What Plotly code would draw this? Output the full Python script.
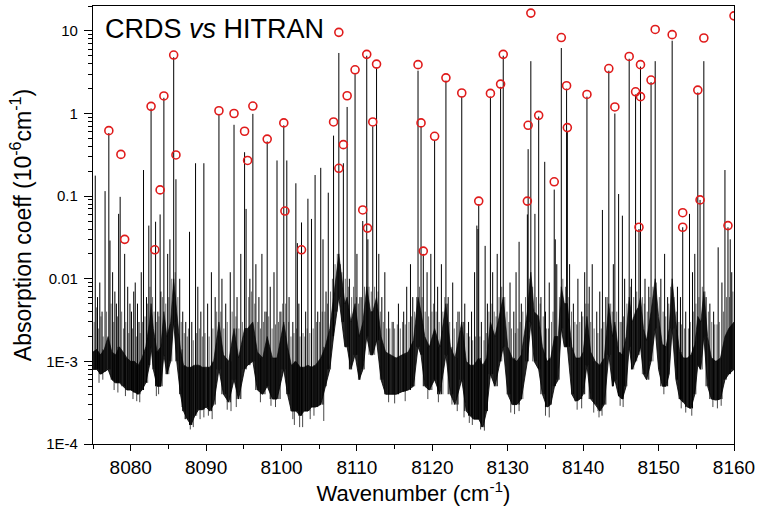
import plotly.graph_objects as go

# ---- HITRAN line intensities (red circles) ----
hitran_wn = [8077.1, 8078.7, 8079.2, 8082.7, 8083.2, 8083.9, 8084.4, 8085.7, 8086.0,
             8091.7, 8093.7, 8095.1, 8095.5, 8096.2, 8098.1, 8100.3, 8100.45, 8102.65,
             8106.9, 8107.6, 8107.6, 8108.2, 8108.7, 8109.75, 8110.77, 8111.3, 8111.4,
             8112.1, 8112.6, 8118.1, 8118.5, 8118.8, 8120.3, 8121.8, 8123.9, 8126.15,
             8127.7, 8129.05, 8129.4, 8132.6, 8132.7, 8133.06, 8134.1, 8136.16, 8137.1,
             8137.8, 8137.9, 8140.5, 8143.4, 8144.2, 8146.1, 8146.95, 8147.4, 8147.6,
             8147.6, 8149.0, 8149.55, 8151.8, 8153.2, 8153.2, 8155.2, 8155.5, 8156.0,
             8159.2, 8160.0]
hitran_int = [0.62, 0.32, 0.030, 1.22, 0.0224, 0.119, 1.63, 5.1, 0.315,
              1.08, 1.0, 0.61, 0.27, 1.23, 0.49, 0.77, 0.066, 0.0224,
              0.79, 9.6, 0.217, 0.42, 1.64, 3.38, 0.068, 5.2, 0.041,
              0.79, 3.96, 3.9, 0.77, 0.0216, 0.53, 2.7, 1.77, 0.087,
              1.75, 2.27, 5.2, 0.087, 0.72, 16.4, 0.95, 0.149, 8.3,
              2.17, 0.675, 1.70, 3.5, 1.20, 4.9, 1.83, 0.042, 3.9,
              1.6, 2.54, 10.4, 9.0, 0.063, 0.042, 1.92, 0.090, 8.2,
              0.044, 15.2]

# ---- CRDS spectrum: main lines (peak values) ----
strong_wn = [8075.3, 8076.6, 8077.1, 8077.25, 8078.4, 8078.6, 8079.2, 8081.7, 8082.4,
             8082.7, 8083.3, 8083.9, 8084.4, 8085.7, 8086.0, 8087.8, 8088.6, 8089.7,
             8091.7, 8093.7, 8095.1, 8095.3, 8096.2, 8098.1, 8099.4, 8100.3, 8100.7,
             8101.9, 8102.1, 8102.65, 8103.5, 8103.97, 8104.45, 8105.2, 8106.2, 8106.9,
             8107.6, 8108.2, 8108.7, 8109.75, 8110.77, 8111.3, 8111.45, 8112.1, 8112.6,
             8118.1, 8118.5, 8118.8, 8120.3, 8121.8, 8123.9, 8125.9, 8126.05, 8126.15,
             8127.0, 8127.7, 8129.05, 8129.4, 8131.5, 8132.6, 8132.7, 8133.06, 8133.6,
             8134.1, 8134.9, 8136.16, 8136.3, 8137.1, 8137.8, 8137.9, 8140.5, 8142.55,
             8143.4, 8144.2, 8144.7, 8145.2, 8146.1, 8146.95, 8147.4, 8147.6, 8149.0,
             8149.55, 8151.8, 8153.2, 8154.1, 8155.2, 8155.5, 8156.0, 8157.9, 8158.8,
             8159.2, 8159.5]
strong_pk = [0.177, 0.115, 0.58, 0.029, 0.061, 0.098, 0.02, 0.207, 0.044,
             1.15, 0.049, 0.06, 1.55, 4.8, 0.16, 0.037, 0.25, 0.25,
             0.97, 0.73, 0.34, 0.07, 0.99, 0.46, 0.27, 0.72, 0.27,
             0.143, 0.027, 0.048, 0.093, 0.053, 0.18, 0.22, 0.11, 0.54,
             5.4, 0.25, 1.2, 3.0, 0.05, 5.0, 0.03, 0.7, 3.6,
             3.3, 0.7, 0.02, 0.47, 2.5, 1.6, 0.044, 0.04, 0.08,
             0.025, 1.6, 2.1, 5.0, 0.028, 0.06, 0.37, 4.3, 0.061,
             0.92, 0.26, 0.12, 0.03, 6.2, 2.0, 0.6, 1.6, 0.068,
             3.3, 1.0, 0.106, 0.058, 4.6, 1.7, 0.04, 3.7, 2.4,
             4.3, 7.6, 0.042, 0.061, 1.8, 0.09, 4.3, 0.024, 0.207,
             0.042, 0.03]

# ---- CRDS spectrum: weak lines ----
weak_wn = [8075.6, 8075.9, 8076.2, 8077.6, 8077.9, 8078.1, 8079.6, 8079.9, 8080.1,
           8080.4, 8080.6, 8080.9, 8081.1, 8081.4, 8082.1, 8083.6, 8084.0, 8084.9,
           8085.2, 8086.5, 8086.9, 8087.3, 8088.1, 8088.9, 8089.3, 8090.2, 8090.7,
           8091.2, 8092.1, 8092.6, 8093.2, 8094.1, 8094.6, 8095.8, 8096.6, 8097.0,
           8097.4, 8097.8, 8098.5, 8099.0, 8099.8, 8101.0, 8101.5, 8102.3, 8103.2,
           8104.8, 8105.5, 8105.9, 8109.0, 8110.0, 8110.4, 8112.9, 8113.3, 8113.7,
           8114.2, 8114.8, 8115.5, 8116.2, 8116.6, 8117.1, 8117.4, 8119.3, 8119.8,
           8120.7, 8121.2, 8122.1, 8122.7, 8123.4, 8124.3, 8124.8, 8125.2, 8125.6,
           8126.5, 8127.3, 8128.0, 8128.6, 8130.3, 8130.8, 8131.1, 8131.8, 8134.4,
           8135.0, 8135.5, 8136.5, 8138.2, 8138.7, 8139.3, 8139.8, 8140.2, 8140.8,
           8141.2, 8141.8, 8142.2, 8143.0, 8144.0, 8145.5, 8146.4, 8148.2, 8148.7,
           8150.3, 8150.8, 8151.2, 8152.5, 8152.9, 8153.6, 8154.5, 8154.8, 8156.3,
           8156.8, 8157.3, 8158.4, 8159.7]
weak_pk = [0.006, 0.009, 0.004, 0.012, 0.007, 0.005, 0.008, 0.005, 0.004,
           0.007, 0.009, 0.005, 0.003, 0.012, 0.006, 0.004, 0.007, 0.02,
           0.03, 0.01, 0.004, 0.003, 0.003, 0.008, 0.004, 0.005, 0.012,
           0.006, 0.01, 0.005, 0.012, 0.006, 0.02, 0.01, 0.015, 0.006,
           0.02, 0.004, 0.008, 0.012, 0.004, 0.006, 0.003, 0.005, 0.004,
           0.004, 0.03, 0.007, 0.01, 0.02, 0.006, 0.02, 0.006, 0.012,
           0.004, 0.003, 0.005, 0.004, 0.008, 0.015, 0.006, 0.012, 0.02,
           0.008, 0.015, 0.006, 0.009, 0.004, 0.005, 0.003, 0.004, 0.012,
           0.003, 0.005, 0.012, 0.02, 0.009, 0.004, 0.012, 0.005, 0.006,
           0.004, 0.009, 0.015, 0.015, 0.005, 0.01, 0.004, 0.012, 0.008,
           0.015, 0.004, 0.007, 0.006, 0.015, 0.01, 0.01, 0.01, 0.008,
           0.01, 0.02, 0.006, 0.008, 0.006, 0.004, 0.012, 0.02, 0.006,
           0.005, 0.004, 0.009, 0.012]

# ---- CRDS spectrum: dense forest of very weak lines just above the noise ----
forest_wn = [8075.15, 8075.45, 8075.75, 8076.05, 8076.35, 8076.8, 8077.4, 8077.75, 8078.25,
             8078.8, 8079.05, 8079.35, 8079.75, 8080.25, 8080.75, 8081.25, 8081.55, 8081.9,
             8082.25, 8082.55, 8082.9, 8083.1, 8083.45, 8083.75, 8084.2, 8084.65, 8085.05,
             8085.45, 8085.9, 8086.25, 8086.7, 8087.1, 8087.5, 8087.65, 8088.3, 8088.75,
             8089.1, 8089.5, 8089.85, 8090.4, 8090.9, 8091.4, 8091.95, 8092.35, 8092.8,
             8093.45, 8093.95, 8094.35, 8094.8, 8095.65, 8096.0, 8096.45, 8096.85, 8097.2,
             8097.6, 8098.0, 8098.3, 8098.75, 8099.2, 8099.6, 8099.95, 8100.15, 8100.55,
             8100.95, 8101.25, 8101.65, 8102.0, 8102.45, 8102.85, 8103.1, 8103.4, 8103.75,
             8104.2, 8104.65, 8105.05, 8105.4, 8105.75, 8106.1, 8106.5, 8106.75, 8107.1,
             8107.4, 8107.8, 8108.0, 8108.45, 8108.9, 8109.3, 8109.55, 8109.95, 8110.2,
             8110.6, 8111.0, 8111.6, 8111.9, 8112.35, 8112.8, 8113.1, 8113.5, 8113.95,
             8114.35, 8114.65, 8115.0, 8115.35, 8115.75, 8116.05, 8116.4, 8116.9, 8117.25,
             8117.65, 8117.9, 8118.3, 8118.65, 8119.05, 8119.5, 8119.95, 8120.15, 8120.5,
             8120.9, 8121.4, 8121.65, 8122.0, 8122.3, 8122.9, 8123.2, 8123.6, 8124.1,
             8124.6, 8124.95, 8125.35, 8125.75, 8126.3, 8126.85, 8127.15, 8127.5, 8127.9,
             8128.2, 8128.45, 8128.85, 8129.2, 8129.6, 8129.9, 8130.15, 8130.5, 8131.0,
             8131.35, 8131.65, 8132.0, 8132.35, 8132.85, 8133.3, 8133.8, 8134.3, 8134.7,
             8135.15, 8135.4, 8135.8, 8136.0, 8136.85, 8137.3, 8137.65, 8138.1, 8138.45,
             8138.9, 8139.15, 8139.55, 8139.95, 8140.35, 8140.65, 8141.0, 8141.45, 8141.95,
             8142.4, 8142.75, 8143.2, 8143.65, 8143.85, 8144.45, 8144.9, 8145.05, 8145.35,
             8145.8, 8146.25, 8146.7, 8147.1, 8147.85, 8148.1, 8148.5, 8148.85, 8149.25,
             8149.7, 8150.1, 8150.6, 8150.95, 8151.35, 8151.6, 8152.05, 8152.35, 8152.7,
             8153.05, 8153.45, 8153.95, 8154.2, 8154.6, 8154.95, 8155.35, 8155.8, 8156.15,
             8156.6, 8157.05, 8157.45, 8157.75, 8158.05, 8158.6, 8159.0, 8159.4, 8159.85]
forest_pk = [0.003, 0.0045, 0.0025, 0.0035, 0.002, 0.004, 0.005, 0.003, 0.0035,
             0.004, 0.0025, 0.003, 0.0022, 0.0025, 0.002, 0.0022, 0.003, 0.0035,
             0.005, 0.008, 0.006, 0.004, 0.003, 0.0035, 0.006, 0.005, 0.006,
             0.01, 0.012, 0.006, 0.003, 0.0022, 0.002, 0.0025, 0.0018, 0.0022,
             0.0025, 0.002, 0.0022, 0.002, 0.0025, 0.004, 0.004, 0.0025, 0.003,
             0.004, 0.0035, 0.0025, 0.003, 0.006, 0.007, 0.005, 0.003, 0.0025,
             0.003, 0.004, 0.0035, 0.0025, 0.0028, 0.003, 0.004, 0.005, 0.005,
             0.003, 0.002, 0.0022, 0.0025, 0.002, 0.0022, 0.002, 0.0025, 0.0022,
             0.0025, 0.003, 0.003, 0.004, 0.004, 0.005, 0.007, 0.01, 0.015,
             0.02, 0.015, 0.012, 0.01, 0.008, 0.006, 0.008, 0.006, 0.005,
             0.006, 0.008, 0.008, 0.007, 0.008, 0.007, 0.004, 0.003, 0.0025,
             0.0025, 0.003, 0.0025, 0.0028, 0.0025, 0.003, 0.0028, 0.003, 0.0035,
             0.004, 0.006, 0.008, 0.006, 0.004, 0.0035, 0.004, 0.005, 0.004,
             0.003, 0.004, 0.006, 0.005, 0.003, 0.0025, 0.003, 0.004, 0.003,
             0.0022, 0.002, 0.0018, 0.002, 0.002, 0.0018, 0.0022, 0.004, 0.005,
             0.004, 0.0035, 0.006, 0.008, 0.006, 0.004, 0.003, 0.0025, 0.0022,
             0.0025, 0.003, 0.004, 0.006, 0.01, 0.008, 0.006, 0.005, 0.0035,
             0.0025, 0.0025, 0.003, 0.004, 0.006, 0.01, 0.008, 0.006, 0.004,
             0.003, 0.0028, 0.003, 0.0035, 0.005, 0.005, 0.003, 0.0025, 0.0022,
             0.0025, 0.003, 0.006, 0.005, 0.004, 0.004, 0.003, 0.003, 0.0035,
             0.005, 0.008, 0.006, 0.007, 0.006, 0.005, 0.004, 0.006, 0.008,
             0.009, 0.006, 0.004, 0.0035, 0.005, 0.008, 0.006, 0.004, 0.003,
             0.0028, 0.0025, 0.0025, 0.003, 0.004, 0.005, 0.006, 0.008, 0.007,
             0.004, 0.003, 0.0028, 0.0028, 0.003, 0.004, 0.006, 0.006, 0.007]

# ---- CRDS spectrum: deepest downward noise spikes ----
dip_wn = [8075.8, 8076.3, 8077.8, 8078.3, 8079.3, 8080.3, 8080.8, 8081.2, 8083.4, 8083.7,
          8086.8, 8087.2, 8087.9, 8088.3, 8089.2, 8089.7, 8090.3, 8090.8, 8092.8, 8093.3,
          8094.0, 8097.2, 8098.6, 8099.2, 8101.5, 8101.7, 8102.4, 8102.8, 8103.8, 8104.3,
          8105.6, 8114.2, 8115.0, 8116.4, 8119.4, 8120.8, 8122.6, 8123.3, 8124.2, 8124.9,
          8125.3, 8126.4, 8126.9, 8130.4, 8130.9, 8131.5, 8135.0, 8135.5, 8139.2, 8139.8,
          8141.4, 8142.1, 8142.5, 8144.9, 8145.3, 8150.7, 8153.0, 8153.6, 8154.4, 8157.2,
          8157.8, 8158.3]
dip_val = [5.5e-4, 6e-4, 4.5e-4, 4.2e-4, 3.8e-4, 3.5e-4, 3.3e-4, 3.2e-4, 3.8e-4, 4e-4,
           2.8e-4, 2e-4, 1.5e-4, 1.6e-4, 2e-4, 2.1e-4, 2.2e-4, 2e-4, 2.6e-4, 2.5e-4,
           2.8e-4, 3.2e-4, 2.9e-4, 2.8e-4, 2e-4, 1.7e-4, 1.6e-4, 1.6e-4, 2e-4, 2.2e-4,
           1.9e-4, 3.2e-4, 3.1e-4, 3.3e-4, 3.5e-4, 3.2e-4, 3e-4, 2.5e-4, 2.1e-4, 1.8e-4,
           1.7e-4, 1.5e-4, 1.45e-4, 2.4e-4, 2.3e-4, 2.5e-4, 2.2e-4, 2.1e-4, 2.6e-4, 2.7e-4,
           2.4e-4, 2.1e-4, 2.2e-4, 2.9e-4, 2.8e-4, 4e-4, 2.7e-4, 2.4e-4, 2.2e-4, 2.8e-4,
           2.7e-4, 2.9e-4]

# ---- CRDS spectrum: dense noise band (upper / lower edge) ----
env_wn = [8075.0, 8075.5, 8076.0, 8076.5, 8077.0, 8077.5, 8078.0, 8078.5, 8079.0, 8079.5,
          8080.0, 8080.5, 8081.0, 8081.5, 8082.0, 8082.5, 8082.7, 8083.0, 8083.5, 8084.0,
          8084.4, 8084.8, 8085.3, 8085.7, 8086.1, 8086.6, 8087.0, 8087.5, 8088.0, 8088.5,
          8089.0, 8089.5, 8090.0, 8090.5, 8091.0, 8091.7, 8092.3, 8093.0, 8093.7, 8094.3,
          8095.1, 8095.5, 8096.2, 8096.8, 8097.5, 8098.1, 8098.8, 8099.4, 8100.3, 8100.8,
          8101.3, 8101.9, 8102.5, 8103.0, 8103.5, 8104.0, 8104.5, 8105.2, 8105.8, 8106.4,
          8106.9, 8107.3, 8107.6, 8108.0, 8108.4, 8108.7, 8109.2, 8109.75, 8110.3, 8110.8,
          8111.3, 8111.8, 8112.1, 8112.6, 8113.2, 8113.8, 8114.5, 8115.2, 8116.0, 8116.8,
          8117.5, 8118.1, 8118.5, 8119.0, 8119.6, 8120.3, 8121.0, 8121.8, 8122.4, 8123.0,
          8123.9, 8124.5, 8125.0, 8125.5, 8126.15, 8126.7, 8127.2, 8127.7, 8128.3, 8129.05,
          8129.4, 8130.0, 8130.6, 8131.2, 8131.8, 8132.6, 8133.06, 8133.5, 8134.1, 8134.6,
          8135.2, 8135.7, 8136.2, 8136.7, 8137.1, 8137.5, 8137.9, 8138.5, 8139.0, 8139.6,
          8140.0, 8140.5, 8141.0, 8141.6, 8142.2, 8142.8, 8143.4, 8143.9, 8144.2, 8144.7,
          8145.2, 8145.7, 8146.1, 8146.5, 8146.95, 8147.3, 8147.6, 8148.0, 8148.4, 8149.0,
          8149.55, 8150.0, 8150.5, 8151.0, 8151.4, 8151.8, 8152.3, 8152.8, 8153.3, 8153.8,
          8154.3, 8154.8, 8155.2, 8155.6, 8156.0, 8156.5, 8157.0, 8157.6, 8158.2, 8158.8,
          8159.3, 8160.0]
env_top = [1.3e-3, 1.4e-3, 1.2e-3, 1.4e-3, 2e-3, 1.3e-3, 1.2e-3, 1.5e-3, 1.3e-3, 1.1e-3,
           1.0e-3, 1.0e-3, 9e-4, 1.1e-3, 1.5e-3, 3e-3, 5e-3, 2.5e-3, 1.3e-3, 1.5e-3,
           4e-3, 2e-3, 3e-3, 1.0e-2, 4e-3, 1.4e-3, 9e-4, 8.5e-4, 8.5e-4, 9e-4,
           9e-4, 8.5e-4, 8.5e-4, 8.5e-4, 1e-3, 3e-3, 1.2e-3, 1.0e-3, 2.5e-3, 1.1e-3,
           2.5e-3, 2.5e-3, 3e-3, 1.3e-3, 1.1e-3, 2e-3, 1.1e-3, 1.1e-3, 3e-3, 1.5e-3,
           9e-4, 1e-3, 8.5e-4, 8.5e-4, 9e-4, 8.5e-4, 9e-4, 1.1e-3, 1.5e-3, 2.5e-3,
           6e-3, 1.2e-2, 2e-2, 1e-2, 5e-3, 6e-3, 3e-3, 5e-3, 2e-3, 3e-3,
           8e-3, 4e-3, 4e-3, 6e-3, 2e-3, 1.3e-3, 1.2e-3, 1.1e-3, 1.2e-3, 1.3e-3,
           1.8e-3, 6e-3, 4e-3, 2e-3, 1.5e-3, 2.5e-3, 1.5e-3, 5e-3, 1.5e-3, 1.1e-3,
           3e-3, 1e-3, 9e-4, 9e-4, 1.1e-3, 9e-4, 1.1e-3, 3e-3, 2e-3, 4e-3,
           6e-3, 1.5e-3, 1.1e-3, 1.0e-3, 1.2e-3, 4e-3, 1.2e-2, 4e-3, 3.5e-3, 1.5e-3,
           1.0e-3, 1.1e-3, 2e-3, 2e-3, 8e-3, 5e-3, 5e-3, 1.5e-3, 1.1e-3, 1.1e-3,
           1.3e-3, 3.5e-3, 1.3e-3, 1e-3, 9e-4, 1.1e-3, 5e-3, 2e-3, 3e-3, 1.3e-3,
           1.2e-3, 2e-3, 6e-3, 3e-3, 4e-3, 4.5e-3, 6e-3, 2.5e-3, 1.8e-3, 4e-3,
           1e-2, 3.5e-3, 1.6e-3, 1.5e-3, 2.5e-3, 1e-2, 3e-3, 1.3e-3, 1.1e-3, 1.1e-3,
           1.2e-3, 1.6e-3, 3.5e-3, 3e-3, 7e-3, 2e-3, 1.1e-3, 1.0e-3, 1.1e-3, 2e-3,
           2.5e-3, 3e-3]
env_bot = [8e-4, 8e-4, 7e-4, 7.5e-4, 8e-4, 6e-4, 5.5e-4, 5.5e-4, 5e-4, 4.5e-4,
           4.5e-4, 4.2e-4, 4e-4, 4.5e-4, 5.5e-4, 9e-4, 1.5e-3, 8e-4, 5e-4, 5e-4,
           1.2e-3, 7e-4, 1e-3, 3e-3, 1e-3, 4e-4, 2.5e-4, 2e-4, 1.7e-4, 2.2e-4,
           2.6e-4, 2.6e-4, 2.8e-4, 2.5e-4, 3e-4, 8e-4, 4e-4, 3.2e-4, 6e-4, 3.5e-4,
           8e-4, 9e-4, 1e-3, 4.5e-4, 4e-4, 5e-4, 3.5e-4, 3.5e-4, 8e-4, 4e-4,
           2.5e-4, 2.5e-4, 2.2e-4, 2.5e-4, 2.5e-4, 2.8e-4, 2.8e-4, 3e-4, 5e-4, 8e-4,
           2e-3, 4e-3, 6e-3, 3e-3, 1.5e-3, 1.5e-3, 8e-4, 1.2e-3, 6e-4, 8e-4,
           2e-3, 1.2e-3, 1.2e-3, 1.8e-3, 6e-4, 4e-4, 4e-4, 4e-4, 4.3e-4, 4.5e-4,
           5e-4, 1.5e-3, 1.2e-3, 5e-4, 4.5e-4, 6e-4, 4e-4, 1.2e-3, 4e-4, 3e-4,
           6e-4, 2.5e-4, 2.2e-4, 2e-4, 2e-4, 1.6e-4, 2.5e-4, 7e-4, 5e-4, 1e-3,
           1.5e-3, 4e-4, 3e-4, 3e-4, 3.5e-4, 1e-3, 3e-3, 1e-3, 8e-4, 4e-4,
           2.8e-4, 3e-4, 5e-4, 6e-4, 2.5e-3, 1.5e-3, 1.5e-3, 4e-4, 3.3e-4, 3.5e-4,
           4e-4, 9e-4, 3.5e-4, 3e-4, 2.5e-4, 3e-4, 1.2e-3, 5e-4, 6e-4, 3.8e-4,
           3.5e-4, 5e-4, 1.5e-3, 8e-4, 1e-3, 1.2e-3, 1.5e-3, 7e-4, 6e-4, 1e-3,
           2.5e-3, 8e-4, 5e-4, 5e-4, 7e-4, 2.5e-3, 6e-4, 3.5e-4, 3.2e-4, 2.8e-4,
           2.7e-4, 4e-4, 9e-4, 8e-4, 2e-3, 5e-4, 3.5e-4, 3.4e-4, 3.5e-4, 6e-4,
           7e-4, 8e-4]

# axis ticks
y_tickvals = [1e-4, 1e-3, 1e-2, 0.1, 1, 10]
y_ticktext = ["1E-4", "1E-3", "0.01", "0.1", "1", "10"]
x_tickvals = [8080, 8090, 8100, 8110, 8120, 8130, 8140, 8150, 8160]
x_minor = [8075, 8085, 8095, 8105, 8115, 8125, 8135, 8145, 8155]


def nearest(wn):
    return min(range(len(env_wn)), key=lambda k: abs(env_wn[k] - wn))


def sticks(pos, val, foot):
    xs, ys = [], []
    for wn, v in zip(pos, val):
        i = nearest(wn)
        xs += [wn, wn, None]
        ys += [foot[i], v, None]
    return xs, ys


line_x, line_y = sticks(strong_wn + weak_wn, strong_pk + weak_pk, env_bot)
forest_x, forest_y = sticks(forest_wn, forest_pk, env_bot)
dip_x, dip_y = sticks(dip_wn, dip_val, env_top)

fig = go.Figure()
fig.add_trace(go.Scatter(x=env_wn, y=env_bot, mode="lines",
                         line=dict(color="black", width=0.8),
                         showlegend=False, hoverinfo="skip"))
fig.add_trace(go.Scatter(x=env_wn, y=env_top, mode="lines", fill="tonexty",
                         fillcolor="rgba(0,0,0,0.85)",
                         line=dict(color="rgba(0,0,0,0.75)", width=0.8),
                         showlegend=False, hoverinfo="skip"))
fig.add_trace(go.Scatter(x=forest_x, y=forest_y, mode="lines",
                         line=dict(color="rgba(0,0,0,0.65)", width=0.9),
                         showlegend=False, hoverinfo="skip"))
fig.add_trace(go.Scatter(x=dip_x, y=dip_y, mode="lines",
                         line=dict(color="rgba(0,0,0,0.8)", width=0.9),
                         showlegend=False, hoverinfo="skip"))
fig.add_trace(go.Scatter(x=line_x, y=line_y, mode="lines",
                         line=dict(color="black", width=1.0),
                         showlegend=False, name="CRDS"))
fig.add_trace(go.Scatter(x=hitran_wn, y=hitran_int, mode="markers",
                         marker=dict(symbol="circle-open", size=8, color="#e01b1b",
                                     line=dict(width=1.6, color="#e01b1b")),
                         showlegend=False, name="HITRAN"))

minor_y = [k * 10.0 ** e for e in range(-4, 2) for k in range(2, 10) if k * 10.0 ** e <= 20]

fig.update_layout(
    width=760, height=513,
    margin=dict(l=93, r=23, t=5, b=69),
    paper_bgcolor="white", plot_bgcolor="white",
    font=dict(family="Liberation Sans, Arial, sans-serif", color="black"),
    annotations=[dict(text="CRDS <i>vs</i> HITRAN", xref="paper", yref="paper",
                      x=0.015, y=0.987, xanchor="left", yanchor="top",
                      showarrow=False, font=dict(size=27, color="black"))],
)
fig.update_xaxes(
    range=[8075, 8160], showgrid=False, zeroline=False,
    showline=True, linecolor="black", linewidth=1.3, mirror=True,
    tickmode="array", tickvals=x_tickvals, ticks="outside", ticklen=6,
    tickwidth=1.2, tickcolor="black", tickfont=dict(size=19),
    ticklabeloverflow="allow",
    minor=dict(tickvals=x_minor, ticks="outside", ticklen=4, tickwidth=1.2,
               tickcolor="black"),
    title=dict(text="Wavenumber (cm<sup>-1</sup>)", font=dict(size=22), standoff=4),
)
fig.update_yaxes(
    type="log", range=[-4, 1.30103], showgrid=False, zeroline=False,
    showline=True, linecolor="black", linewidth=1.3, mirror=True,
    tickmode="array", tickvals=y_tickvals, ticktext=y_ticktext,
    ticks="outside", ticklen=8, tickwidth=1.2, tickcolor="black",
    tickfont=dict(size=15), ticklabelstandoff=3,
    minor=dict(tickvals=minor_y, ticks="outside", ticklen=4, tickwidth=1,
               tickcolor="black"),
    title=dict(text="Absorption coeff (10<sup>-6</sup>cm<sup>-1</sup>)",
               font=dict(size=23), standoff=8),
)

fig.write_html("out.html", config={"displayModeBar": False},
               post_script="document.body.style.margin='0px';"
                           "document.body.style.overflow='hidden';")
